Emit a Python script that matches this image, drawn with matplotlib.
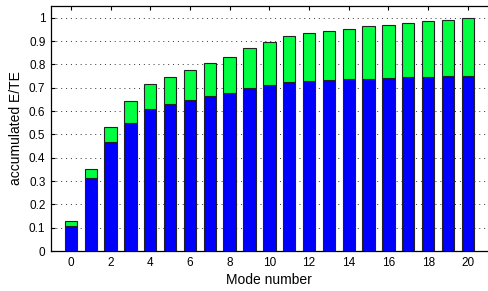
import matplotlib
matplotlib.use("Agg")
import matplotlib.pyplot as plt
import numpy as np

modes = list(range(21))
blue_vals = [0.108, 0.313, 0.466, 0.549, 0.609, 0.629, 0.647, 0.663, 0.679, 0.697,
             0.711, 0.723, 0.729, 0.733, 0.736, 0.739, 0.740, 0.746, 0.746, 0.750, 0.751]
total_vals = [0.127, 0.350, 0.531, 0.642, 0.716, 0.746, 0.776, 0.807, 0.833, 0.869,
              0.897, 0.921, 0.933, 0.944, 0.953, 0.963, 0.970, 0.977, 0.984, 0.991, 0.999]
green_vals = [t - b for t, b in zip(total_vals, blue_vals)]
xticks = list(range(0, 21, 2))
yticks = [i / 10 for i in range(11)]
ytick_labels = ["0", "0.1", "0.2", "0.3", "0.4", "0.5", "0.6", "0.7", "0.8", "0.9", "1"]

plt.rcParams['font.family'] = ['Liberation Sans', 'DejaVu Sans']

fig = plt.figure(figsize=(4.89, 2.91), dpi=100)
ax = fig.add_axes([51 / 489, 1 - 251 / 291, 436.7 / 489, 245 / 291])

ax.bar(modes, blue_vals, width=0.62, color='#0000ff', edgecolor='#222222', linewidth=0.8, zorder=3)
ax.bar(modes, green_vals, bottom=blue_vals, width=0.62, color='#00ff40', edgecolor='#222222',
       linewidth=0.8, zorder=3)

ax.set_xlim(-1, 21)
ax.set_ylim(0, 1.05)
ax.set_xticks(xticks)
ax.set_yticks(yticks)
ax.set_yticklabels(ytick_labels)
ax.tick_params(direction='in', length=3, width=0.8, labelsize=8.5, top=True, right=False,
               pad=4)
ax.yaxis.grid(True, linestyle=(0, (1, 4)), color='#333333', linewidth=0.7, zorder=0)
ax.spines['right'].set_visible(False)
for s in ['left', 'bottom', 'top']:
    ax.spines[s].set_linewidth(0.9)

ax.set_xlabel('Mode number', fontsize=10, labelpad=3)
ax.set_ylabel('accumulated E/TE', fontsize=10, labelpad=4)

fig.savefig('out.png', dpi=100)
